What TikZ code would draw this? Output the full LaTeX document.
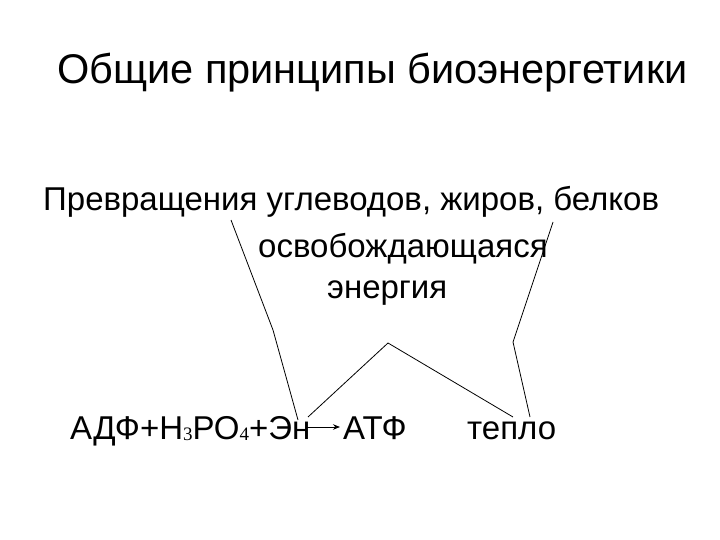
\documentclass[tikz,border=0pt]{standalone}
\usepackage{fontspec}
\setmainfont{Liberation Sans}
\newfontfamily\subfont{Liberation Serif}
\usetikzlibrary{arrows.meta}
\tikzset{
  txt/.style={anchor=base west, inner sep=0pt, font=\fontsize{33}{40}\selectfont},
  ttl/.style={anchor=base west, inner sep=0pt, font=\fontsize{41.5}{48}\selectfont},
  conn/.style={draw=black, line width=0.8pt, line join=miter},
}
\newcommand{\sbs}[1]{\raisebox{-1pt}{\subfont\fontsize{19}{24}\selectfont #1}}
\begin{document}
\begin{tikzpicture}[x=1pt,y=-1pt]
\useasboundingbox[fill=white] (0,0) rectangle (720,540);
\node[ttl] (title) at (57,84) {Общие принципы биоэнергетики};
\node[txt] (l1) at (43,211) {Превращения углеводов, жиров, белков};
\node[txt] (l2) at (258,258) {освобождающаяся};
\node[txt] (l3) at (327,298) {энергия};
\node[txt] (eq) at (70,439) {АДФ+Н\sbs{3}РО\sbs{4}+Эн};
\node[txt] (atp) at (343,439) {АТФ};
\node[txt] (heat) at (467,439) {тепло};
% connectors
\coordinate (a1) at (231,220);
\coordinate (a2) at (273,330);
\coordinate (a3) at (298,420);
\coordinate (b1) at (553,222);
\coordinate (b2) at (513,342);
\coordinate (b3) at (530,417);
\coordinate (c1) at (308,417);
\coordinate (c2) at (388,343);
\coordinate (c3) at (513,417);
\coordinate (ar1) at (306,427);
\coordinate (ar2) at (340,427);
\draw[conn] (a1) -- (a2) -- (a3);
\draw[conn] (b1) -- (b2) -- (b3);
\draw[conn] (c1) -- (c2) -- (c3);
\draw[conn, -{Stealth[length=7pt,width=5.5pt]}] (ar1) -- (ar2);
\end{tikzpicture}
\end{document}
